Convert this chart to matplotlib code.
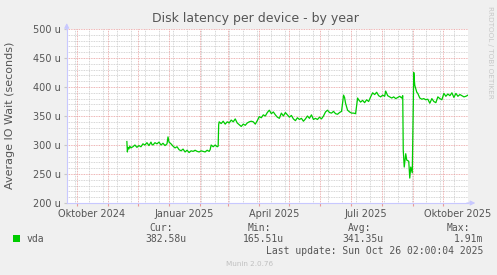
import matplotlib
matplotlib.use('Agg')
import matplotlib.pyplot as plt
import pandas as pd

# day offsets from 2024-09-21 and values in microseconds
days = [60, 60.5, 61, 62, 63, 64, 66, 68, 70, 72,
        74, 76, 78, 80, 82, 84, 85, 86, 88, 90,
        92, 94, 96, 98, 100, 101, 102, 104, 106, 108,
        110, 112, 114, 116, 118, 120, 122, 124, 126, 128,
        130, 132, 134, 136, 138, 140, 142, 143, 144, 146,
        148, 150, 151, 151.5, 152, 154, 156, 158, 160, 162,
        164, 166, 168, 170, 172, 174, 176, 178, 180, 182,
        184, 186, 188, 190, 192, 194, 196, 198, 200, 202,
        204, 206, 208, 210, 212, 214, 216, 218, 220, 222,
        224, 226, 228, 230, 232, 234, 236, 238, 240, 242,
        244, 246, 248, 250, 252, 254, 256, 258, 260, 262,
        264, 266, 268, 270, 272, 274, 275, 276, 277, 278,
        280, 282, 284, 286, 288, 290, 291, 293, 295, 297,
        299, 301, 303, 305, 307, 309, 311, 313, 315, 317,
        318, 320, 322, 324, 326, 328, 330, 332, 334, 335,
        335.5, 336.5, 338, 339, 341, 342, 343, 344.5, 346, 347,
        349, 350, 352, 354, 356, 358, 360, 362, 364, 366,
        368, 370, 372, 374, 376, 378, 380, 382, 384, 386,
        388, 390, 392, 394, 396, 398, 400]
vda = [306, 288, 296, 293, 298, 295, 297, 300, 296, 299,
       297, 302, 300, 304, 299, 305, 301, 300, 304, 302,
       305, 300, 303, 299, 302, 314, 305, 302, 298, 295,
       297, 292, 290, 293, 288, 291, 287, 290, 289, 291,
       289, 288, 290, 289, 288, 291, 289, 292, 300, 297,
       300, 297, 298, 335, 340, 337, 341, 336, 340, 338,
       343, 340, 345, 338, 335, 332, 336, 334, 338, 340,
       341, 340, 336, 342, 349, 347, 352, 350, 356, 360,
       354, 357, 352, 348, 346, 355, 350, 356, 352, 348,
       351, 345, 342, 347, 344, 346, 341, 345, 350, 346,
       352, 344, 346, 344, 348, 345, 350, 357, 360, 356,
       355, 358, 354, 353, 356, 358, 372, 386, 382, 372,
       360, 357, 355, 355, 354, 381, 378, 374, 377, 373,
       378, 375, 383, 390, 387, 391, 385, 383, 386, 384,
       393, 385, 383, 381, 383, 380, 382, 384, 381, 385,
       291, 262, 285, 274, 272, 243, 262, 252, 425, 403,
       391, 389, 381, 379, 380, 378, 379, 372, 380, 375,
       373, 383, 380, 378, 389, 384, 388, 385, 390, 382,
       389, 384, 387, 385, 383, 384, 386]

start = pd.Timestamp('2024-09-21')
end = pd.Timestamp('2025-10-26 02:00')
dates = [start + pd.Timedelta(days=d) for d in days]

legend_heads = ['Cur:', 'Min:', 'Avg:', 'Max:']
legend_vals = ['382.58u', '165.51u', '341.35u', '1.91m']

bg = '#f0f0f0'
fig = plt.figure(figsize=(4.97, 2.75), dpi=100, facecolor=bg)
ax = fig.add_axes([0.1342, 0.2618, 0.8075, 0.6327])
ax.set_facecolor('white')

ax.plot(dates, vda, color='#00cc00', linewidth=0.9, zorder=3)

ax.set_xlim(start, end)
ax.set_ylim(200, 500)

# grid: minor gray, major red-ish
for y in range(200, 501, 10):
    if y % 50:
        ax.axhline(y, color='#c8c8c8', linewidth=0.6, linestyle=(0, (1, 1)), zorder=1)
for d in pd.date_range('2024-09-15', end, freq='14D'):
    if d > start:
        ax.axvline(d, color='#c8c8c8', linewidth=0.6, linestyle=(0, (1, 1)), zorder=1)
for y in range(250, 501, 50):
    ax.axhline(y, color='#e89a9a', linewidth=0.6, linestyle=(0, (1, 1)), zorder=2)
months = pd.date_range('2024-10-01', end, freq='MS')
for d in months:
    ax.axvline(d, color='#e89a9a', linewidth=0.6, linestyle=(0, (1, 1)), zorder=2)

ax.set_yticks(range(200, 501, 50))
ax.set_yticklabels(['%d u' % v for v in range(200, 501, 50)], fontsize=7, color='#555555')
ax.set_xticks(months)
ax.set_xticklabels([])
ax.tick_params(axis='y', length=2, color='#c8c8c8', pad=2)
ax.tick_params(axis='x', length=2, color='#e89a9a')

label_dates = [pd.Timestamp(s) for s in ['2024-10-16', '2025-01-16', '2025-04-16',
                                            '2025-07-16', '2025-10-16']]
label_txt = ['Oktober 2024', 'Januar 2025', 'April 2025', 'Juli 2025', 'Oktober 2025']
for d, t in zip(label_dates, label_txt):
    ax.text(d, -0.035, t, transform=ax.get_xaxis_transform(), ha='center', va='top',
            fontsize=7, color='#555555', clip_on=False)

for s in ['top', 'right']:
    ax.spines[s].set_visible(False)
for s in ['left', 'bottom']:
    ax.spines[s].set_color('#c8c8ff')
    ax.spines[s].set_linewidth(0.8)
ax.annotate('', xy=(0, 1.05), xytext=(0, 0.98), xycoords='axes fraction',
            arrowprops=dict(arrowstyle='-|>', color='#c8c8ff', lw=0.8, mutation_scale=7))
ax.annotate('', xy=(1.025, 0), xytext=(0.99, 0), xycoords='axes fraction',
            arrowprops=dict(arrowstyle='-|>', color='#c8c8ff', lw=0.8, mutation_scale=7))

fig.text(0.513, 0.933, 'Disk latency per device - by year', ha='center', va='center',
         fontsize=9, color='#555555')
fig.text(0.02, 0.58, 'Average IO Wait (seconds)', rotation=90, ha='center', va='center',
         fontsize=8, color='#555555')
fig.text(0.986, 0.81, 'RRDTOOL / TOBI OETIKER', rotation=270, ha='center', va='center',
         fontsize=5.2, color='#c8c8c8')

# legend block
mono = 'DejaVu Sans Mono'
fig.patches.append(plt.Rectangle((0.026, 0.12), 0.014, 0.025, transform=fig.transFigure,
                                 facecolor='#00cc00', edgecolor='none'))
fig.text(0.054, 0.131, 'vda', fontsize=7, family=mono, color='#555555', va='center')
head_x = [0.324, 0.522, 0.723, 0.922]
for hx, h in zip(head_x, legend_heads):
    fig.text(hx, 0.171, h, fontsize=7, family=mono, color='#555555', va='center', ha='center')
for vx, v in zip([0.333, 0.531, 0.730, 0.943], legend_vals):
    fig.text(vx, 0.131, v, fontsize=7, family=mono, color='#555555', va='center', ha='center')
fig.text(0.973, 0.087, 'Last update: Sun Oct 26 02:00:04 2025', fontsize=7, family=mono,
         color='#555555', va='center', ha='right')
fig.text(0.502, 0.04, 'Munin 2.0.76', fontsize=5.2, color='#c0c0c0', ha='center', va='center')

fig.savefig('out.png', dpi=100, facecolor=bg)
